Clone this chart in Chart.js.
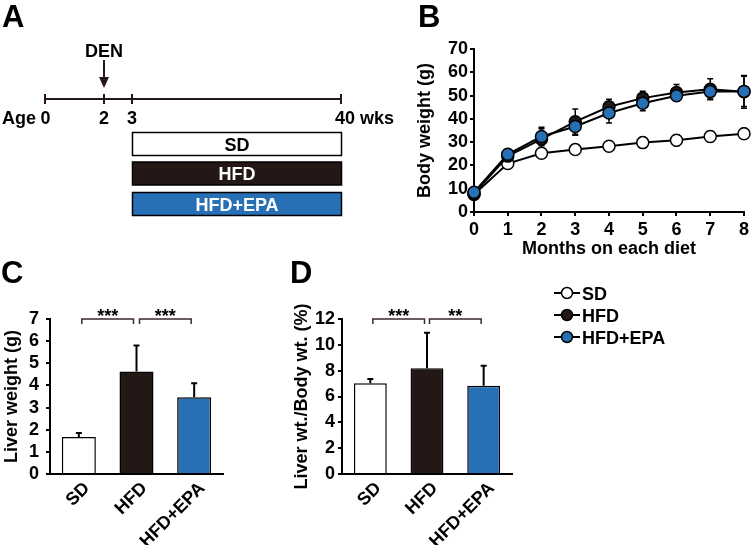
<!DOCTYPE html>
<html>
<head>
<meta charset="utf-8">
<title>Body weight and liver weight</title>
<script src="https://cdn.jsdelivr.net/npm/chart.js@4.4.1/dist/chart.umd.min.js"></script>
<style>
  html, body { margin: 0; padding: 0; background: #fff; }
  body {
    position: relative; width: 752px; height: 545px; overflow: hidden;
    font-family: "Liberation Sans", Arial, sans-serif; font-weight: bold; color: #000;
  }
  .letter { position: absolute; font-size: 31px; line-height: 31px; }
  canvas, svg { position: absolute; }
</style>
</head>
<body>
<canvas id="chartBody" width="372" height="270" style="left:380px;top:0"></canvas>
<canvas id="chartLiver" width="265" height="275" style="left:0;top:270px"></canvas>
<canvas id="chartRatio" width="260" height="275" style="left:265px;top:270px"></canvas>

<svg id="overlay" width="752" height="545" style="left:0;top:0" font-family="Liberation Sans, Arial, sans-serif" font-weight="bold" font-size="18">
  <!-- A: timeline -->
  <text x="104" y="57" text-anchor="middle">DEN</text>
  <line x1="104" y1="60" x2="104" y2="80" stroke="#231815" stroke-width="2"/>
  <polygon points="99,77 109,77 104,88" fill="#231815"/>
  <line x1="45" y1="99" x2="341" y2="99" stroke="#231815" stroke-width="2"/>
  <line x1="45" y1="94" x2="45" y2="104" stroke="#231815" stroke-width="2"/>
  <line x1="104" y1="94" x2="104" y2="104" stroke="#231815" stroke-width="2"/>
  <line x1="132" y1="94" x2="132" y2="104" stroke="#231815" stroke-width="2"/>
  <line x1="341" y1="94" x2="341" y2="104" stroke="#231815" stroke-width="2"/>
  <text x="2" y="124">Age</text>
  <text x="45.5" y="124" text-anchor="middle">0</text>
  <text x="104" y="124" text-anchor="middle">2</text>
  <text x="132" y="124" text-anchor="middle">3</text>
  <text x="335" y="124">40 wks</text>
  <rect x="132.5" y="132.5" width="209" height="23" fill="#fff" stroke="#000" stroke-width="1.5"/>
  <text x="237" y="150.5" text-anchor="middle">SD</text>
  <rect x="132.5" y="162" width="209" height="23" fill="#231815" stroke="#000" stroke-width="1.5"/>
  <text x="237" y="180" text-anchor="middle" fill="#fff">HFD</text>
  <rect x="132.5" y="192.5" width="209" height="23" fill="#2770b5" stroke="#000" stroke-width="1.5"/>
  <text x="237" y="210.5" text-anchor="middle" fill="#fff">HFD+EPA</text>

  <!-- legend -->
  <g id="legend"></g>
</svg>

<div class="letter" style="left:2px;top:1px">A</div>
<div class="letter" style="left:418px;top:1px">B</div>
<div class="letter" style="left:1px;top:257px">C</div>
<div class="letter" style="left:290px;top:257px">D</div>

<script>
const months = ["0", "1", "2", "3", "4", "5", "6", "7", "8"];
const sdWeight = [7.5, 20.8, 25.2, 26.8, 28.2, 29.8, 30.8, 32.4, 33.6];
const sdWeightErr = [0.8, 1.0, 1.2, 1.5, 1.5, 2.4, 2.4, 2.2, 2.4];
const hfdWeight = [7.8, 24.0, 31.3, 38.8, 45.2, 48.9, 51.3, 52.7, 51.6];
const hfdWeightErr = [0.8, 1.5, 4.5, 5.4, 3.2, 3.0, 3.5, 4.5, 7.0];
const epaWeight = [8.5, 24.8, 32.4, 36.7, 42.5, 46.7, 49.9, 51.7, 51.8];
const epaWeightErr = [0.8, 1.5, 4.0, 3.7, 4.3, 3.2, 2.0, 3.2, 6.5];

const groups = ["SD", "HFD", "HFD+EPA"];
const liverWeight = [1.67, 4.63, 3.47];
const liverWeightErr = [0.18, 1.17, 0.63];
const liverRatio = [7.02, 8.18, 6.84];
const liverRatioErr = [0.33, 2.76, 1.54];
const liverPairs = [[0, 1, "***"], [1, 2, "***"]];
const ratioPairs = [[0, 1, "***"], [1, 2, "**"]];

const FONT = "'Liberation Sans', Arial, sans-serif";
const INK = "#000000";
const groupColors = ["#ffffff", "#231815", "#2770b5"];

Chart.defaults.font.family = FONT;
Chart.defaults.font.weight = "bold";
Chart.defaults.font.size = 18;
Chart.defaults.color = INK;

function drawErrorBars(chart, opts) {
  const { ctx } = chart;
  const yScale = chart.scales.y;
  const cap = opts.cap ?? 3;
  chart.data.datasets.forEach((dataset, i) => {
    if (!dataset.errors) return;
    const meta = chart.getDatasetMeta(i);
    ctx.save();
    ctx.strokeStyle = INK;
    ctx.lineWidth = opts.width ?? 1.5;
    meta.data.forEach((el, j) => {
      const value = dataset.data[j];
      const err = dataset.errors[j];
      const top = yScale.getPixelForValue(value + err);
      const bottom = yScale.getPixelForValue(opts.upOnly ? value : value - err);
      ctx.beginPath();
      ctx.moveTo(el.x, bottom);
      ctx.lineTo(el.x, top);
      ctx.moveTo(el.x - cap, top);
      ctx.lineTo(el.x + cap, top);
      if (!opts.upOnly) {
        ctx.moveTo(el.x - cap, bottom);
        ctx.lineTo(el.x + cap, bottom);
      }
      ctx.stroke();
    });
    ctx.restore();
  });
}

const errorBarsPlugin = {
  id: "errorBars",
  beforeDatasetsDraw(chart, _args, opts) {
    if (!opts.upOnly) drawErrorBars(chart, opts);
  },
  afterDatasetsDraw(chart, _args, opts) {
    if (opts.upOnly) drawErrorBars(chart, opts);
  }
};

const bracketPlugin = {
  id: "sigBrackets",
  afterDraw(chart, _args, opts) {
    if (!opts.pairs) return;
    const { ctx, scales: { x, y } } = chart;
    const level = y.getPixelForValue(y.max);
    ctx.save();
    ctx.strokeStyle = "#3a2b27";
    ctx.lineWidth = 1.5;
    ctx.fillStyle = INK;
    ctx.font = `bold 18px ${FONT}`;
    ctx.textAlign = "center";
    ctx.textBaseline = "alphabetic";
    opts.pairs.forEach(([from, to, label]) => {
      const x1 = x.getPixelForValue(from) + opts.inset;
      const x2 = x.getPixelForValue(to) - opts.inset;
      ctx.beginPath();
      ctx.moveTo(x1, level + 5);
      ctx.lineTo(x1, level);
      ctx.lineTo(x2, level);
      ctx.lineTo(x2, level + 5);
      ctx.stroke();
      ctx.fillText(label, (x1 + x2) / 2, level + 3);
    });
    ctx.restore();
  }
};

function axisLine(tickLength) {
  return {
    display: true,
    drawOnChartArea: false,
    drawTicks: tickLength > 0,
    tickLength,
    color: INK,
    lineWidth: 2
  };
}

function weightDataset(label, data, errors, fill, order) {
  return {
    label,
    data,
    errors,
    order,
    borderColor: INK,
    borderWidth: 2,
    pointRadius: 6,
    pointBackgroundColor: fill,
    pointBorderColor: INK,
    pointBorderWidth: 1.5,
    tension: 0,
    clip: false
  };
}

new Chart(document.getElementById("chartBody"), {
  type: "line",
  data: {
    labels: months,
    datasets: [
      weightDataset("SD", sdWeight, sdWeightErr, groupColors[0], 3),
      weightDataset("HFD", hfdWeight, hfdWeightErr, groupColors[1], 2),
      weightDataset("HFD+EPA", epaWeight, epaWeightErr, groupColors[2], 1)
    ]
  },
  options: {
    responsive: false,
    animation: false,
    events: [],
    layout: { padding: { top: 49, right: 7, left: 0, bottom: 0 } },
    plugins: {
      legend: { display: false },
      tooltip: { enabled: false },
      errorBars: { upOnly: false, cap: 3, width: 1.5 }
    },
    scales: {
      x: {
        grid: axisLine(4),
        border: { display: true, color: INK, width: 2 },
        ticks: { padding: 3, autoSkip: false, maxRotation: 0 },
        title: { display: true, text: "Months on each diet", padding: { top: 0, bottom: 10 } },
        afterFit(scale) { scale.height = 58; }
      },
      y: {
        min: 0,
        max: 70,
        grid: axisLine(4),
        border: { display: true, color: INK, width: 2 },
        ticks: { stepSize: 10, padding: 2, autoSkip: false },
        title: { display: true, text: "Body weight (g)", padding: { top: 34, bottom: 0 } },
        afterFit(scale) { scale.width = 94; }
      }
    }
  },
  plugins: [errorBarsPlugin]
});

function barChart(id, values, errors, opts) {
  new Chart(document.getElementById(id), {
    type: "bar",
    data: {
      labels: groups,
      datasets: [{
        data: values,
        errors,
        backgroundColor: groupColors,
        borderColor: INK,
        borderWidth: 1.5,
        barPercentage: opts.barPct,
        categoryPercentage: 1
      }]
    },
    options: {
      responsive: false,
      animation: false,
      events: [],
      layout: { padding: { top: 49, right: opts.padRight, left: 0, bottom: 0 } },
      plugins: {
        legend: { display: false },
        tooltip: { enabled: false },
        errorBars: { upOnly: true, cap: 3, width: 2 },
        sigBrackets: { pairs: opts.pairs, inset: opts.inset }
      },
      scales: {
        x: {
          grid: axisLine(0),
          border: { display: true, color: INK, width: 2, z: 1 },
          ticks: { minRotation: 45, maxRotation: 45, padding: 4, labelOffset: 8, autoSkip: false },
          afterFit(scale) { scale.height = 71; }
        },
        y: {
          min: 0,
          max: opts.yMax,
          grid: axisLine(4),
          border: { display: true, color: INK, width: 2, z: 1 },
          ticks: { stepSize: opts.step, padding: opts.tickPad, autoSkip: false },
          title: { display: true, text: opts.title, padding: { top: opts.titlePad, bottom: 0 } },
          afterFit(scale) { scale.width = opts.yWidth; }
        }
      }
    },
    plugins: [errorBarsPlugin, bracketPlugin]
  });
}

barChart("chartLiver", liverWeight, liverWeightErr, {
  yMax: 7, step: 1, title: "Liver weight (g)", yWidth: 50, padRight: 42,
  titlePad: 1, tickPad: 7, barPct: 0.59, pairs: liverPairs, inset: 3
});

barChart("chartRatio", liverRatio, liverRatioErr, {
  yMax: 12, step: 2, title: "Liver wt./Body wt. (%)", yWidth: 77, padRight: 13,
  titlePad: 26, tickPad: 3, barPct: 0.58, pairs: ratioPairs, inset: 2.5
});

// legend for the three diet groups
const legend = document.getElementById("legend");
const ns = "http://www.w3.org/2000/svg";
const legendRows = [293, 315, 337];
groups.forEach((name, i) => {
  const y = legendRows[i];
  const line = document.createElementNS(ns, "line");
  line.setAttribute("x1", 554); line.setAttribute("x2", 580);
  line.setAttribute("y1", y); line.setAttribute("y2", y);
  line.setAttribute("stroke", INK); line.setAttribute("stroke-width", 2);
  const dot = document.createElementNS(ns, "circle");
  dot.setAttribute("cx", 567); dot.setAttribute("cy", y); dot.setAttribute("r", 5.5);
  dot.setAttribute("fill", groupColors[i]); dot.setAttribute("stroke", INK);
  dot.setAttribute("stroke-width", 1.5);
  const text = document.createElementNS(ns, "text");
  text.setAttribute("x", 582); text.setAttribute("y", y + 6.5);
  text.textContent = name;
  legend.append(line, dot, text);
});
</script>
</body>
</html>
